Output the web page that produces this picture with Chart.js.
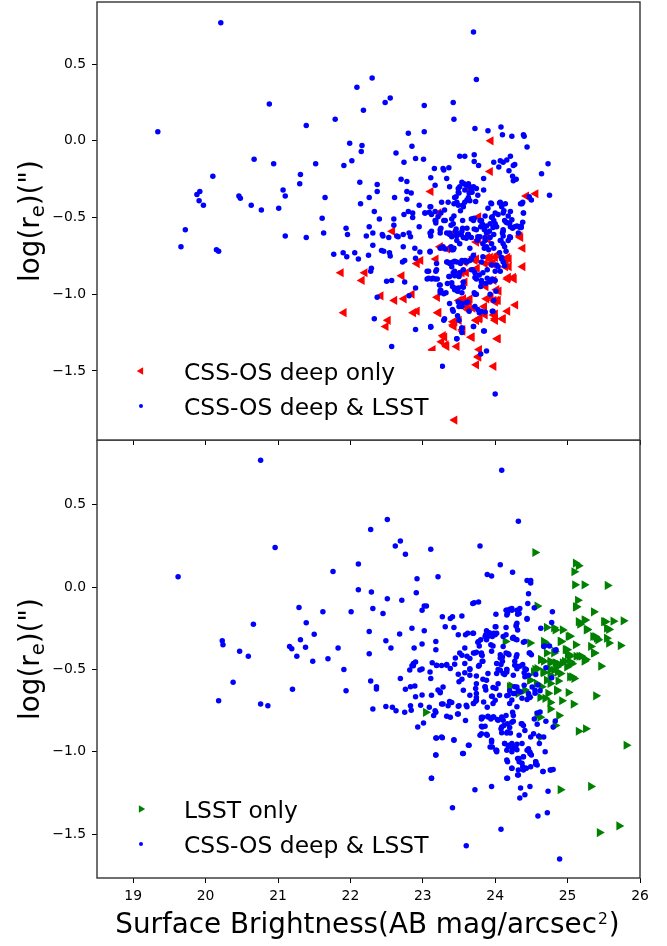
<!DOCTYPE html>
<html><head><meta charset="utf-8">
<script src="https://cdn.jsdelivr.net/npm/chart.js@4.4.0/dist/chart.umd.min.js"></script>
<style>
html,body{margin:0;padding:0;background:#fff;}
#wrap{position:relative;width:667px;height:946px;overflow:hidden;background:#fff;}
canvas{position:absolute;left:0;}
#c1{top:0;} #c2{top:440px;}
</style></head><body>
<div id="wrap"><canvas id="c1" width="667" height="450"></canvas><canvas id="c2" width="667" height="506"></canvas></div>
<script>
// ---------- DATA ----------
const xTicks = [19, 20, 21, 22, 23, 24, 25, 26];
const yTicks = [-1.5, -1.0, -0.5, 0.0, 0.5];
const xLabel = 'Surface Brightness(AB mag/arcsec';
const yLabelParts = ['log(r', 'e', ')(")'];
const legendTop = ['CSS-OS deep only', 'CSS-OS deep & LSST'];
const legendBottom = ['LSST only', 'CSS-OS deep & LSST'];

// top panel: CSS-OS deep & LSST (blue)
const topBlueX = [20.21,19.34,20.88,21.39,21.79,20.67,20.94,21.52,20.10,21.31,
21.30,21.07,21.10,19.88,19.92,19.91,19.97,20.46,20.48,20.63,
20.77,21.01,21.65,21.61,21.63,21.10,21.39,19.72,19.66,20.15,
20.18,21.77,23.70,22.30,22.09,23.74,22.48,22.55,22.18,23.02,
23.42,23.43,22.80,23.02,23.72,23.90,24.08,24.10,24.23,24.39,
24.40,24.44,21.99,22.16,22.15,22.85,22.63,21.91,22.02,22.74,
22.90,23.01,23.51,23.58,23.71,23.71,23.77,23.98,24.07,24.11,
24.16,24.21,24.25,24.27,24.05,24.19,24.24,24.25,24.29,24.73,
24.64,24.75,24.50,22.13,22.37,22.37,22.70,22.78,22.78,22.84,
22.78,22.61,22.26,22.14,22.33,22.40,21.94,21.96,22.22,22.26,
22.31,22.44,22.45,22.60,22.60,22.74,22.80,22.86,22.86,22.95,
22.95,22.81,22.83,23.03,23.09,23.11,23.11,23.16,23.17,23.28,
23.29,23.36,23.33,23.37,23.49,23.51,23.54,23.57,23.60,23.63,
23.65,23.74,23.84,23.84,23.68,23.76,23.44,23.47,23.49,23.58,
23.61,23.63,23.73,23.26,23.35,23.30,23.25,23.12,23.17,23.18,
23.31,23.43,23.39,23.56,23.52,23.69,23.71,23.79,23.82,23.86,
23.90,23.95,23.96,23.98,24.00,24.02,24.04,24.07,24.09,24.11,
24.14,24.15,24.20,24.23,24.37,24.38,24.39,24.38,24.36,24.30,
24.24,24.11,24.21,23.92,23.98,23.93,23.74,23.76,23.61,23.55,
23.56,23.63,23.45,23.47,23.37,23.24,23.10,23.11,22.66,21.90,
21.95,22.06,22.11,22.25,22.31,22.43,22.46,22.54,22.55,22.53,
22.64,22.73,22.73,22.72,22.75,22.50,22.57,22.29,22.28,22.37,
22.75,22.81,22.90,22.90,22.89,22.96,23.10,23.08,23.08,23.14,
23.20,23.19,23.23,23.24,23.24,23.32,23.28,23.31,23.39,23.40,
23.43,23.34,23.39,23.42,23.44,23.52,23.42,23.44,23.49,23.36,
23.34,23.40,23.44,23.48,23.54,23.55,23.56,23.51,23.58,23.61,
23.65,23.69,23.72,23.74,23.71,23.74,23.80,23.81,23.83,23.89,
23.89,23.93,23.96,24.00,24.00,24.04,24.11,24.09,24.15,24.21,
24.11,24.08,24.11,23.98,23.91,23.85,23.83,23.86,23.88,23.75,
23.67,23.62,23.53,23.47,23.40,23.37,23.25,23.46,23.71,23.85,
24.11,24.27,24.36,24.32,24.21,24.01,23.98,23.97,23.81,23.76,
23.72,23.62,23.54,23.49,23.50,23.48,23.50,23.54,23.54,23.47,
23.70,23.85,23.41,23.30,23.11,22.90,22.33,22.57,23.88,23.80,
24.00,23.27,
23.58,23.64,23.67,23.70,23.65,23.55,23.10,23.03,23.17,23.18,
23.21,23.29,23.42,23.40,23.55,23.67,23.70,23.81,23.80,23.83,
23.88,23.93,23.97,23.95,24.00,23.94,24.06,24.09,24.13,24.17,
24.18,24.12,24.21,24.34,24.35,24.39,24.47,23.79,23.86,23.88,
23.95,24.07,24.18,24.10,24.20,23.33,23.40,23.47,23.60,23.54,
23.24,23.12,23.10,23.24,23.42,23.51,23.65,23.70,24.06,24.13,
23.49,23.50,23.46,23.43,23.19,23.33,23.37,23.40,23.47,23.54,
23.60,23.67,23.81,23.83,23.95,24.02,24.09,24.13,23.06,23.18,
23.06,23.12,23.17,23.37,23.44,23.50,23.56,23.67,23.72,23.78,
23.81,23.87,23.93,24.07,23.24,23.25,23.29,23.41,23.44,23.49,
23.56,23.72,23.54,23.60,23.37,23.42,23.64,23.78,23.86,23.93,
23.96,23.29,23.11,23.70,23.84,23.54,23.47];
const topBlueY = [0.77,0.06,0.24,0.10,0.14,-0.12,-0.15,-0.15,-0.23,-0.22,
-0.28,-0.32,-0.36,-0.35,-0.33,-0.39,-0.42,-0.36,-0.375,-0.42,
-0.45,-0.44,-0.37,-0.505,-0.60,-0.62,-0.63,-0.58,-0.69,-0.71,
-0.72,-0.74,0.71,0.41,0.35,0.40,0.25,0.28,0.20,0.23,
0.25,0.14,0.05,0.06,0.08,0.065,0.09,0.04,0.03,0.04,
0.03,-0.04,-0.015,-0.03,-0.07,-0.035,-0.08,-0.16,-0.13,-0.14,
-0.115,-0.12,-0.10,-0.10,-0.09,-0.135,-0.16,-0.14,-0.13,-0.14,
-0.125,-0.10,-0.16,-0.155,-0.17,-0.195,-0.23,-0.26,-0.25,-0.15,
-0.215,-0.355,-0.385,-0.27,-0.285,-0.33,-0.25,-0.265,-0.33,-0.34,
-0.38,-0.37,-0.37,-0.41,-0.46,-0.51,-0.57,-0.61,-0.62,-0.56,
-0.60,-0.61,-0.62,-0.55,-0.51,-0.48,-0.46,-0.47,-0.50,-0.42,
-0.56,-0.60,-0.625,-0.47,-0.465,-0.43,-0.24,-0.18,-0.29,-0.18,
-0.19,-0.175,-0.245,-0.30,-0.335,-0.30,-0.27,-0.28,-0.29,-0.28,
-0.30,-0.31,-0.245,-0.32,-0.335,-0.355,-0.37,-0.40,-0.42,-0.40,
-0.385,-0.37,-0.395,-0.40,-0.40,-0.45,-0.47,-0.48,-0.52,-0.535,
-0.52,-0.49,-0.55,-0.43,-0.455,-0.51,-0.505,-0.52,-0.54,-0.49,
-0.44,-0.41,-0.495,-0.52,-0.54,-0.56,-0.48,-0.40,-0.42,-0.47,
-0.41,-0.53,-0.535,-0.515,-0.41,-0.40,-0.47,-0.53,-0.555,-0.555,
-0.57,-0.59,-0.63,-0.59,-0.61,-0.63,-0.58,-0.625,-0.57,-0.57,
-0.63,-0.61,-0.59,-0.60,-0.61,-0.60,-0.60,-0.62,-0.625,-0.73,
-0.755,-0.73,-0.77,-0.745,-0.68,-0.715,-0.72,-0.73,-0.75,-0.63,
-0.62,-0.61,-0.69,-0.79,-0.78,-0.915,-0.91,-0.83,-0.85,-1.02,
-0.92,-1.01,-0.96,-0.765,-0.70,-0.725,-0.725,-0.85,-0.895,-0.895,
-0.90,-0.84,-0.94,-0.975,-0.99,-0.99,-0.69,-0.705,-0.69,-0.71,
-0.70,-0.79,-0.795,-0.79,-0.785,-0.80,-0.86,-0.85,-0.88,-0.885,
-0.93,-0.925,-0.96,-0.98,-0.99,-0.95,-0.92,-0.86,-0.78,-0.79,
-0.78,-0.84,-0.86,-0.90,-0.99,-1.00,-0.95,-0.92,-0.86,-0.84,
-0.895,-0.92,-0.90,-0.91,-0.85,-0.82,-0.79,-0.77,-0.72,-0.63,
-0.62,-0.65,-0.67,-0.70,-0.71,-0.70,-0.67,-0.63,-0.60,-0.65,
-0.63,-0.61,-0.61,-0.62,-0.62,-0.60,-0.57,-0.575,-0.575,-0.58,
-0.58,-0.56,-0.565,-0.60,-0.56,-0.98,-1.04,-1.11,-1.11,-1.10,
-1.08,-1.05,-1.08,-1.05,-1.08,-1.14,-1.17,-1.22,-1.25,-1.29,
-1.21,-1.24,-1.10,-1.16,-1.21,-1.23,-1.16,-1.34,-1.37,-1.39,
-1.65,-1.47,
-0.32,-0.34,-0.32,-0.30,-0.39,-0.42,-0.43,-0.47,-0.46,-0.52,
-0.495,-0.52,-0.54,-0.51,-0.52,-0.51,-0.52,-0.52,-0.56,-0.55,
-0.555,-0.54,-0.565,-0.50,-0.47,-0.405,-0.405,-0.43,-0.52,-0.535,
-0.49,-0.455,-0.46,-0.565,-0.41,-0.47,-0.365,-0.625,-0.65,-0.69,
-0.67,-0.65,-0.65,-0.60,-0.625,-0.60,-0.625,-0.65,-0.635,-0.59,
-0.58,-0.59,-0.72,-0.70,-0.71,-0.67,-0.70,-0.745,-0.73,-0.69,
-0.31,-0.34,-0.365,-0.41,-0.80,-0.79,-0.80,-0.82,-0.79,-0.78,
-0.79,-0.77,-0.79,-0.755,-0.81,-0.81,-0.76,-0.815,-0.85,-0.85,
-0.90,-0.90,-0.90,-0.885,-0.88,-0.885,-0.84,-0.84,-0.89,-0.875,
-0.91,-0.93,-0.91,-0.85,-0.94,-0.975,-0.997,-0.95,-0.97,-0.96,
-0.955,-1.00,-1.06,-1.055,-1.06,-1.11,-1.11,-1.12,-1.115,-1.00,
-1.11,-1.17,-1.215,-1.21,-1.24,-1.22,-1.29];

// top panel: CSS-OS deep only (red)
const redX = [23.94,23.93,24.56,24.43,22.58,23.11,23.63,23.22,23.77,24.35,
23.89,23.43,21.87,22.20,22.16,22.42,22.61,21.91,22.71,22.74,
22.85,22.87,22.92,22.52,22.49,22.97,22.92,23.18,23.24,23.34,
23.20,23.22,23.42,23.43,23.50,23.55,23.30,23.26,23.33,23.47,
23.68,23.78,23.77,23.74,23.98,24.04,23.44,23.10,23.58,23.51,
23.58,23.47,23.56,23.64,23.61,23.62,23.69,23.74,23.78,23.85,
23.87,23.94,23.98,24.02,23.88,24.00,24.00,24.11,24.17,24.28,
24.05,23.74,23.75,23.86,23.89,23.93,23.97,24.00,24.04,24.15,
24.19,24.14,24.18,24.25,24.38,24.38,24.34,23.74,23.89,23.43,
23.60,23.56,
23.77,23.90,23.70,23.93,24.04,24.17,23.72,23.96,24.19,23.86,
23.98,24.02,24.04,24.00,23.74,23.79,23.86,23.98,24.00,24.10,
23.28,23.32,23.67,24.03,23.14,23.77,23.54,23.50,23.65,24.17,
24.26,23.44,23.42,23.55,23.21];
const redY = [0.00,-0.20,-0.345,-0.36,-0.59,-0.33,-0.32,-0.47,-0.495,-0.63,
-0.635,-0.60,-0.86,-0.86,-0.91,-1.01,-1.04,-1.12,-0.88,-1.03,
-1.00,-1.12,-1.11,-1.17,-1.21,-0.78,-0.80,-0.77,-0.69,-0.705,
-1.02,-1.12,-1.18,-1.21,-1.17,-1.24,-1.28,-1.31,-1.34,-1.34,
-1.28,-1.36,-1.41,-1.46,-1.47,-1.29,-1.82,-1.38,-0.79,-0.86,
-0.92,-0.97,-1.04,-1.05,-1.08,-1.10,-1.09,-1.17,-1.16,-1.08,
-0.95,-1.02,-1.04,-1.04,-1.03,-1.13,-1.16,-1.16,-1.11,-1.07,
-0.98,-0.77,-0.83,-0.80,-0.76,-0.80,-0.80,-0.76,-0.74,-0.78,
-0.77,-0.82,-0.89,-0.89,-0.82,-0.70,-0.62,-0.66,-0.64,-0.61,
-0.86,-1.03,
-0.645,-0.64,-0.755,-0.76,-0.745,-0.76,-0.78,-0.80,-0.82,-0.94,
-0.91,-0.97,-1.04,-1.05,-1.17,-1.155,-1.135,-1.135,-1.17,-1.16,
-1.27,-1.33,-1.28,-1.29,-1.36,-1.405,-0.86,-1.04,-1.03,-0.90,
-0.90,-1.18,-1.20,-1.23,-1.12];

// bottom panel: CSS-OS deep & LSST (blue)
const botBlueX = [20.76,19.62,20.96,21.76,21.29,21.62,21.39,21.50,20.66,21.31,
20.23,20.24,20.47,20.59,21.16,21.19,21.38,21.26,21.48,21.69,
21.83,20.38,20.18,20.76,20.86,21.20,24.09,22.51,22.28,24.32,
22.62,22.69,22.76,23.11,23.79,22.11,24.07,24.24,23.89,23.95,
22.92,23.21,24.44,24.49,24.49,22.11,22.29,22.51,22.91,22.71,
24.46,22.01,22.31,22.45,22.99,23.02,23.05,23.69,23.71,23.77,
24.01,24.15,24.20,24.23,24.16,24.31,24.34,24.45,24.44,24.54,
24.79,24.78,24.63,23.27,23.38,23.41,23.54,23.31,23.43,23.49,
23.59,23.62,23.69,23.88,23.92,24.00,24.01,24.15,24.30,24.29,
24.31,24.25,24.28,24.11,23.96,23.86,23.88,23.76,23.80,23.78,
23.97,23.95,23.58,23.51,23.54,23.61,23.65,23.70,23.74,23.81,
23.82,23.82,23.45,23.44,23.58,23.33,23.26,23.19,23.13,23.18,
23.18,23.02,22.99,22.88,22.85,22.68,22.49,22.56,22.26,22.26,
22.90,22.87,22.85,21.91,22.99,24.15,24.18,24.07,24.10,24.19,
24.30,24.29,24.39,24.47,24.50,24.68,24.75,24.83,24.41,24.30,
24.27,24.16,24.07,24.02,23.78,23.65,21.94,22.28,22.36,22.36,
22.31,22.49,22.58,22.63,22.75,22.69,22.76,22.83,22.83,22.84,
22.89,22.90,22.97,22.99,22.93,23.01,23.09,23.12,23.18,23.15,
23.11,23.21,23.24,23.28,23.28,23.37,23.38,23.33,23.48,23.49,
23.50,23.54,23.56,23.59,23.61,23.70,23.73,23.74,23.86,23.89,
23.84,23.96,23.97,24.01,24.04,24.06,23.81,23.82,23.90,23.94,
23.98,24.03,24.09,24.11,24.17,24.24,24.25,24.30,24.36,24.33,
24.08,24.09,24.17,24.21,23.81,23.88,23.95,23.96,24.01,24.02,
24.13,24.18,24.23,24.28,24.30,24.37,24.44,24.46,24.48,24.50,
24.39,24.33,24.16,24.37,24.42,24.56,24.56,24.49,24.53,24.60,
24.67,24.61,24.69,24.66,24.77,24.80,24.23,24.31,24.16,23.95,
24.35,24.48,24.41,24.34,24.73,23.72,23.56,23.63,23.43,23.26,
23.18,23.18,23.12,23.41,24.08,23.60,24.59,24.72,24.89,24.54,
24.58,24.62,24.80,24.83,24.70,24.58,24.55,24.51,24.46,24.48,
24.44,24.40,24.35,24.30,24.27,24.23,24.20,24.25,24.16,24.11,
24.02,23.90,23.88,23.74,23.65,23.58,23.49,23.38,23.33,23.19,
23.10,22.96,22.87,22.82,
24.16,24.17,24.23,24.30,24.33,24.44,24.00,24.02,24.29,24.41,
23.70,23.87,23.90,23.98,24.15,24.24,24.30,23.77,23.94,24.11,
24.48,24.67,24.84,23.72,23.81,23.83,24.07,24.10,24.08,24.27,
24.30,24.34,24.38,24.40,24.41,24.43,24.46,24.16,24.04,24.13,
24.56,24.70,24.78,23.77,23.65,23.74,23.83,23.86,23.87,23.97,
23.73,23.74,24.27,24.32,24.37,24.59,24.62,24.48,24.55,24.16,
24.20,
23.24,23.65,23.74,23.95,24.00,24.18,24.25,23.17,23.26,23.35,
23.40,23.49,23.50,23.60,23.70,23.81,23.83,23.90,23.97,24.04,
24.09,24.15,24.23,24.25,23.81,23.86,24.09,24.12,24.20,24.16,
24.37,24.39,24.41,23.79,23.89,23.19,23.27,23.43,23.95,23.93,
24.02,24.13,24.19,24.23,24.30,24.16,24.23,24.27,24.46,24.48,
23.64,23.55,23.18,24.17,24.31,24.33,24.39,24.56,24.58,24.49,
24.38,24.32,24.39,24.43,24.23,24.66,24.76,23.12,24.17,24.32];
const botBlueY = [0.77,0.063,0.24,0.095,-0.124,-0.15,-0.217,-0.286,-0.225,-0.32,
-0.326,-0.35,-0.39,-0.42,-0.36,-0.375,-0.365,-0.42,-0.45,-0.435,
-0.37,-0.577,-0.69,-0.71,-0.72,-0.62,0.71,0.41,0.35,0.40,
0.25,0.28,0.20,0.23,0.25,0.14,0.136,0.09,0.077,0.067,
0.05,0.063,0.04,0.04,0.025,-0.016,-0.03,-0.07,-0.035,-0.08,
-0.04,-0.15,-0.13,-0.16,-0.14,-0.115,-0.115,-0.10,-0.095,-0.09,
-0.165,-0.14,-0.135,-0.14,-0.17,-0.165,-0.13,-0.10,-0.195,-0.125,
-0.15,-0.215,-0.25,-0.18,-0.19,-0.18,-0.175,-0.24,-0.245,-0.29,
-0.29,-0.28,-0.28,-0.265,-0.277,-0.29,-0.24,-0.245,-0.22,-0.237,
-0.26,-0.305,-0.316,-0.30,-0.30,-0.30,-0.32,-0.335,-0.32,-0.357,
-0.357,-0.39,-0.37,-0.40,-0.413,-0.42,-0.434,-0.40,-0.396,-0.40,
-0.45,-0.415,-0.43,-0.468,-0.464,-0.47,-0.476,-0.476,-0.46,-0.33,
-0.38,-0.265,-0.345,-0.37,-0.25,-0.285,-0.325,-0.37,-0.27,-0.405,
-0.455,-0.478,-0.478,-0.50,-0.497,-0.40,-0.404,-0.43,-0.424,-0.411,
-0.41,-0.424,-0.335,-0.40,-0.41,-0.357,-0.357,-0.385,-0.495,-0.495,
-0.475,-0.50,-0.505,-0.464,-0.474,-0.495,-0.63,-0.57,-0.605,-0.618,
-0.74,-0.725,-0.73,-0.75,-0.76,-0.555,-0.62,-0.605,-0.72,-0.748,
-0.60,-0.665,-0.717,-0.655,-0.85,-0.825,-0.73,-0.656,-0.76,-0.78,
-0.555,-0.625,-0.642,-0.606,-0.71,-0.695,-0.79,-0.784,-0.77,-0.723,
-0.575,-0.559,-0.626,-0.81,-0.727,-0.707,-0.693,-0.646,-0.606,-0.73,
-0.697,-0.662,-0.707,-0.616,-0.586,-0.657,-0.79,-0.85,-0.788,-0.80,
-0.788,-0.804,-0.788,-0.808,-0.829,-0.76,-0.815,-0.727,-0.83,-0.90,
-0.86,-0.884,-0.88,-0.886,-0.89,-0.893,-0.93,-0.97,-0.99,-1.00,
-0.95,-0.967,-0.975,-0.971,-0.987,-0.95,-0.99,-0.981,-1.003,-1.02,
-1.03,-1.04,-1.05,-1.07,-1.10,-1.06,-1.076,-0.91,-0.89,-0.906,
-0.91,-0.95,-1.00,-1.12,-1.11,-1.108,-1.10,-1.14,-1.16,-1.21,
-1.22,-1.21,-1.26,-1.28,-1.24,-1.23,-1.01,-0.96,-0.93,-0.91,
-0.916,-1.02,-1.16,-1.34,-1.47,-1.57,-1.39,-1.37,-1.65,-0.80,
-0.764,-0.758,-0.85,-0.813,-0.815,-0.833,-0.626,-0.606,-0.646,-0.666,
-0.683,-0.596,-0.636,-0.606,-0.646,-0.686,-0.707,-0.535,-0.515,-0.525,
-0.525,-0.525,-0.565,-0.586,-0.535,-0.52,-0.529,-0.494,-0.474,-0.474,
-0.515,-0.504,-0.464,-0.504,
-0.14,-0.16,-0.13,-0.14,-0.16,-0.19,-0.24,-0.28,-0.23,-0.33,
-0.28,-0.29,-0.30,-0.28,-0.29,-0.31,-0.32,-0.33,-0.35,-0.36,
-0.40,-0.36,-0.38,-0.40,-0.41,-0.45,-0.41,-0.45,-0.47,-0.45,
-0.48,-0.48,-0.47,-0.52,-0.545,-0.50,-0.535,-0.50,-0.50,-0.53,
-0.53,-0.49,-0.55,-0.48,-0.50,-0.54,-0.56,-0.605,-0.625,-0.61,
-0.615,-0.67,-0.605,-0.63,-0.675,-0.595,-0.63,-0.67,-0.645,-0.66,
-0.63,
-0.636,-0.656,-0.687,-0.663,-0.687,-0.656,-0.646,-0.75,-0.71,-0.72,
-0.70,-0.77,-0.72,-0.717,-0.707,-0.80,-0.79,-0.784,-0.788,-0.808,
-0.80,-0.78,-0.82,-0.78,-0.845,-0.845,-0.85,-0.84,-0.853,-0.886,
-0.83,-0.84,-0.87,-0.90,-0.90,-0.916,-0.914,-0.926,-0.94,-0.97,
-0.99,-0.95,-0.96,-0.95,-0.954,-0.99,-1.00,-0.98,-0.99,-1.01,
-0.96,-1.01,-1.02,-1.06,-1.04,-1.06,-1.03,-1.06,-1.08,-1.09,
-1.09,-1.11,-1.11,-1.10,-1.10,-1.12,-1.11,-1.16,-1.16,-1.14];

// bottom panel: LSST only (green)
const greenX = [24.55,25.11,25.15,25.09,25.10,25.23,25.55,25.14,25.11,24.58,
25.36,25.15,25.17,25.23,25.50,25.63,25.77,25.54,25.57,25.27,
24.81,24.93,25.03,24.91,25.35,25.40,25.54,25.57,25.73,25.11,
25.32,25.37,24.67,24.48,24.14,24.71,24.81,24.97,25.00,25.03,
25.16,25.25,24.63,24.67,24.76,24.85,24.93,25.04,25.46,24.58,
23.04,24.22,24.32,24.53,24.48,24.67,24.71,24.76,24.81,24.85,
24.90,24.99,25.06,25.09,25.01,24.85,24.76,24.69,24.92,25.08,
24.76,24.88,24.58,24.62,24.83,24.63,25.15,25.25,25.39,25.81,
24.90,25.32,25.71,25.44,25.23,25.06,
25.12,25.24,25.52,24.71,24.83,25.01,25.26,25.38,25.42,24.69,
24.90,24.82,24.99,25.02,25.19,25.12,25.36,24.63,24.76,24.83,
24.89,24.96,25.03,24.55,24.66,24.76,24.86,25.03,24.87,24.48,
24.57,24.64,24.76,24.85,24.41,24.46,24.62,24.73,24.20];
const greenY = [0.21,0.145,0.13,0.093,0.014,0.014,0.01,-0.08,-0.12,-0.115,
-0.15,-0.21,-0.225,-0.20,-0.21,-0.207,-0.205,-0.25,-0.257,-0.257,
-0.247,-0.26,-0.298,-0.33,-0.30,-0.31,-0.31,-0.34,-0.355,-0.35,
-0.36,-0.40,-0.33,-0.34,-0.33,-0.40,-0.40,-0.38,-0.41,-0.42,
-0.42,-0.44,-0.44,-0.45,-0.46,-0.463,-0.46,-0.455,-0.48,-0.495,
-0.76,-0.60,-0.645,-0.515,-0.565,-0.52,-0.565,-0.535,-0.505,-0.485,
-0.525,-0.485,-0.545,-0.555,-0.64,-0.63,-0.70,-0.675,-0.69,-0.71,
-0.74,-0.78,-0.78,-0.79,-0.84,-0.91,-0.875,-0.86,-0.66,-0.96,
-1.23,-1.21,-1.45,-1.49,-0.45,-0.465,
-0.12,-0.20,-0.21,-0.245,-0.26,-0.30,-0.26,-0.30,-0.32,-0.34,
-0.33,-0.39,-0.38,-0.41,-0.42,-0.42,-0.40,-0.44,-0.45,-0.46,
-0.47,-0.45,-0.46,-0.50,-0.515,-0.50,-0.515,-0.545,-0.57,-0.565,
-0.585,-0.605,-0.585,-0.625,-0.625,-0.67,-0.67,-0.645,-0.605];

// ---------- CHARTS ----------
const FONT = "'DejaVu Sans', sans-serif";
Chart.defaults.font.family = FONT;
const pts = (xs, ys) => xs.map((x, i) => ({x: x, y: ys[i]}));
const fmt = v => (v < 0 ? '\u2212' : '') + Math.abs(v).toFixed(1);

const BLUE = '#0000ff', RED = '#ff0000', GREEN = '#008000';
const LABEL_PX = 27.8, LEGEND_PX = 23.4, TICK_PX = 13.9;

function blueSet(data) {
  return {data, pointStyle: 'circle', pointRadius: 2.75, pointHoverRadius: 2.75,
    pointBackgroundColor: BLUE, pointBorderWidth: 0, showLine: false};
}
function triSet(data, color, rot) {
  return {data, pointStyle: 'triangle', pointRotation: rot, pointRadius: 5.3, pointHoverRadius: 5.3,
    pointBackgroundColor: color, pointBorderWidth: 0, showLine: false};
}

function overlay(opts) {
  return {
    id: 'overlay',
    afterDatasetsDraw(chart) {
      const ctx = chart.ctx, a = chart.chartArea;
      ctx.save();
      // legend frame (opaque, no edge)
      const bx = a.left + 5, bw = 338, bh = 84, by = a.bottom - 5 - bh;
      ctx.fillStyle = '#fff';
      ctx.fillRect(bx, by, bw, bh);
      // legend entries
      const mx = a.left + 44, tx = a.left + 87;
      const rows = [by + 20, by + 55];
      opts.legend.forEach((item, i) => {
        const y = rows[i];
        if (item.kind === 'dot') {
          ctx.beginPath(); ctx.fillStyle = BLUE;
          ctx.arc(mx, y, 2, 0, Math.PI * 2); ctx.fill();
        } else {
          Chart.helpers.drawPoint(ctx, {pointStyle: 'triangle', rotation: item.rot, radius: 4.2, borderWidth: 0}, mx, y);
          ctx.fillStyle = item.color; ctx.fill();
        }
        ctx.fillStyle = '#000';
        ctx.font = LEGEND_PX + 'px ' + FONT;
        ctx.textAlign = 'left'; ctx.textBaseline = 'alphabetic';
        ctx.fillText(item.text, tx, y + 8.5);
      });
      // frame
      ctx.strokeStyle = '#333'; ctx.lineWidth = 1.4;
      ctx.strokeRect(a.left, a.top, a.right - a.left, a.bottom - a.top);
      // y label
      ctx.save();
      ctx.translate(39.3, (a.top + a.bottom) / 2);
      ctx.rotate(-Math.PI / 2);
      ctx.fillStyle = '#000';
      ctx.textBaseline = 'alphabetic'; ctx.textAlign = 'left';
      const big = LABEL_PX + 'px ' + FONT, small = (LABEL_PX * 0.7) + 'px ' + FONT;
      ctx.font = big; const w1 = ctx.measureText(yLabelParts[0]).width;
      const w3 = ctx.measureText(yLabelParts[2]).width;
      ctx.font = small; const w2 = ctx.measureText(yLabelParts[1]).width;
      let x0 = -(w1 + w2 + w3) / 2;
      ctx.font = big; ctx.fillText(yLabelParts[0], x0, 0);
      ctx.font = small; ctx.fillText(yLabelParts[1], x0 + w1, 5);
      ctx.font = big; ctx.fillText(yLabelParts[2], x0 + w1 + w2, 0);
      ctx.restore();
      // x label
      if (opts.xlabel) {
        ctx.fillStyle = '#000'; ctx.textAlign = 'left'; ctx.textBaseline = 'alphabetic';
        const supF = '15.5px ' + FONT;
        ctx.font = big; const a1 = ctx.measureText(xLabel).width; const a3 = ctx.measureText(')').width;
        ctx.font = supF; const a2 = ctx.measureText('2').width;
        const cx = (a.left + a.right) / 2 - 2, base = a.bottom + 55;
        let sx = cx - (a1 + a2 + a3) / 2;
        ctx.font = big; ctx.fillText(xLabel, sx, base);
        ctx.font = supF; ctx.fillText('2', sx + a1 + 1, base - 9);
        ctx.font = big; ctx.fillText(')', sx + a1 + a2 + 2, base);
      }
      ctx.restore();
    }
  };
}

function makeChart(id, datasets, ymin, ymax, showX, xAxisH, padTop, legend) {
  return new Chart(document.getElementById(id), {
    type: 'scatter',
    data: {datasets},
    options: {
      responsive: false, animation: false, events: [],
      layout: {padding: {top: padTop, right: 27, left: 0, bottom: 0}, autoPadding: false},
      plugins: {legend: {display: false}, tooltip: {enabled: false}},
      scales: {
        x: {
          type: 'linear', min: 18.5, max: 26,
          afterBuildTicks: s => { s.ticks = xTicks.map(v => ({value: v})); },
          afterFit: s => { s.height = xAxisH; s.paddingLeft = 0; s.paddingRight = 0; },
          grid: {display: true, drawOnChartArea: false, drawTicks: true, tickLength: 5, color: '#000', tickColor: '#000', tickWidth: 1},
          border: {display: false},
          ticks: {display: showX, color: '#000', font: {size: TICK_PX}, padding: 5, maxRotation: 0,
            callback: v => String(v)}
        },
        y: {
          type: 'linear', min: ymin, max: ymax,
          afterBuildTicks: s => { s.ticks = yTicks.map(v => ({value: v})); },
          afterFit: s => { s.width = 97; s.paddingTop = 0; s.paddingBottom = 0; },
          grid: {display: true, drawOnChartArea: false, drawTicks: true, tickLength: 5, color: '#000', tickColor: '#000', tickWidth: 1},
          border: {display: false},
          ticks: {color: '#000', font: {size: TICK_PX}, padding: 6, callback: fmt}
        }
      }
    },
    plugins: [overlay({legend, xlabel: showX})]
  });
}

makeChart('c1',
  [blueSet(pts(topBlueX, topBlueY)), triSet(pts(redX, redY), RED, 270)],
  -1.95, 0.905, false, 10, 2,
  [{kind: 'tri', color: RED, rot: 270, text: legendTop[0]}, {kind: 'dot', text: legendTop[1]}]);

makeChart('c2',
  [blueSet(pts(botBlueX, botBlueY)), triSet(pts(greenX, greenY), GREEN, 90)],
  -1.766, 0.893, true, 68, 0,
  [{kind: 'tri', color: GREEN, rot: 90, text: legendBottom[0]}, {kind: 'dot', text: legendBottom[1]}]);
</script>
</body></html>
